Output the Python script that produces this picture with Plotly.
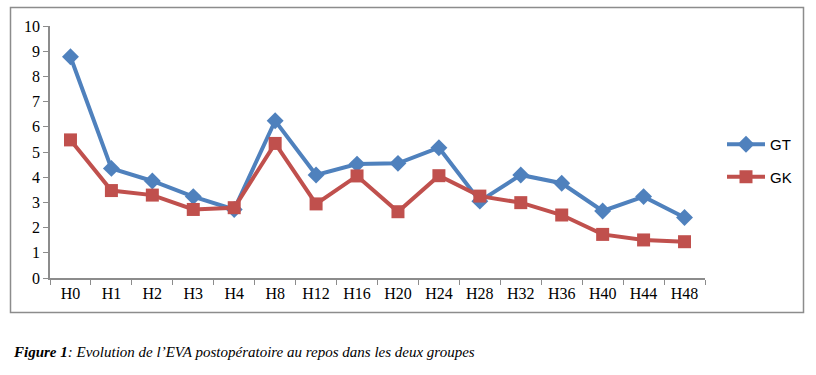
import plotly.graph_objects as go

categories = ["H0", "H1", "H2", "H3", "H4", "H8", "H12", "H16", "H20", "H24",
              "H28", "H32", "H36", "H40", "H44", "H48"]
gt_values = [8.78, 4.35, 3.85, 3.23, 2.72, 6.24, 4.09, 4.52, 4.55, 5.17,
             3.05, 4.09, 3.76, 2.66, 3.23, 2.40]
gk_values = [5.48, 3.47, 3.29, 2.72, 2.79, 5.34, 2.94, 4.05, 2.63, 4.06,
             3.25, 2.99, 2.50, 1.73, 1.51, 1.44]
y_ticks = list(range(0, 11))

W, H = 816, 375
L, R, T, B = 50, 111, 26, 97
pw, ph = W - L - R, H - T - B

fig = go.Figure()
fig.add_trace(go.Scatter(
    x=categories, y=gt_values, name="GT", mode="lines+markers",
    line=dict(color="#4F81BD", width=4),
    marker=dict(symbol="diamond", size=13, color="#4F81BD"),
    legendgroup="gt"))
fig.add_trace(go.Scatter(
    x=categories, y=gk_values, name="GK", mode="lines+markers",
    line=dict(color="#C0504D", width=4),
    marker=dict(symbol="square", size=13, color="#C0504D"),
    legendgroup="gk"))

def px_x(x):
    return (x - L) / pw

def px_y(y):
    return (H - B - y) / ph

fig.add_shape(type="rect", xref="paper", yref="paper",
              x0=px_x(10.5), x1=px_x(803.5), y0=px_y(312.5), y1=px_y(7.5),
              line=dict(color="#8c8c8c", width=1.5), layer="below")

fig.add_annotation(
    xref="paper", yref="paper", x=px_x(11), y=px_y(352), xanchor="left", yanchor="middle",
    showarrow=False,
    text="<b><i>Figure 1</i></b><i>: Evolution de l’EVA postopératoire au repos dans les deux groupes</i>",
    font=dict(family="Liberation Serif", size=15, color="#000000"))

fig.update_layout(
    width=W, height=H,
    margin=dict(l=L, r=R, t=T, b=B),
    paper_bgcolor="white", plot_bgcolor="white",
    showlegend=True,
    legend=dict(x=px_x(722), y=px_y(128), xanchor="left", yanchor="top",
                font=dict(family="Liberation Sans", size=15, color="#000000"),
                tracegroupgap=10, itemwidth=38, bgcolor="rgba(0,0,0,0)"),
    xaxis=dict(type="category", range=[-0.5, 15.5], showgrid=False,
               showline=True, linecolor="#8c8c8c", linewidth=1.5,
               ticks="outside", tickson="boundaries", ticklen=5, tickcolor="#8c8c8c",
               tickfont=dict(family="Liberation Serif", size=16, color="#000000"),
               fixedrange=True),
    yaxis=dict(range=[0, 10], tickvals=y_ticks, showgrid=False, zeroline=False,
               showline=True, linecolor="#8c8c8c", linewidth=1.5,
               ticks="outside", ticklen=5, tickcolor="#8c8c8c",
               tickfont=dict(family="Liberation Serif", size=16, color="#000000"),
               fixedrange=True),
)

fig.write_html("out.html", config={"displayModeBar": False},
               post_script="document.body.style.margin='0';")
